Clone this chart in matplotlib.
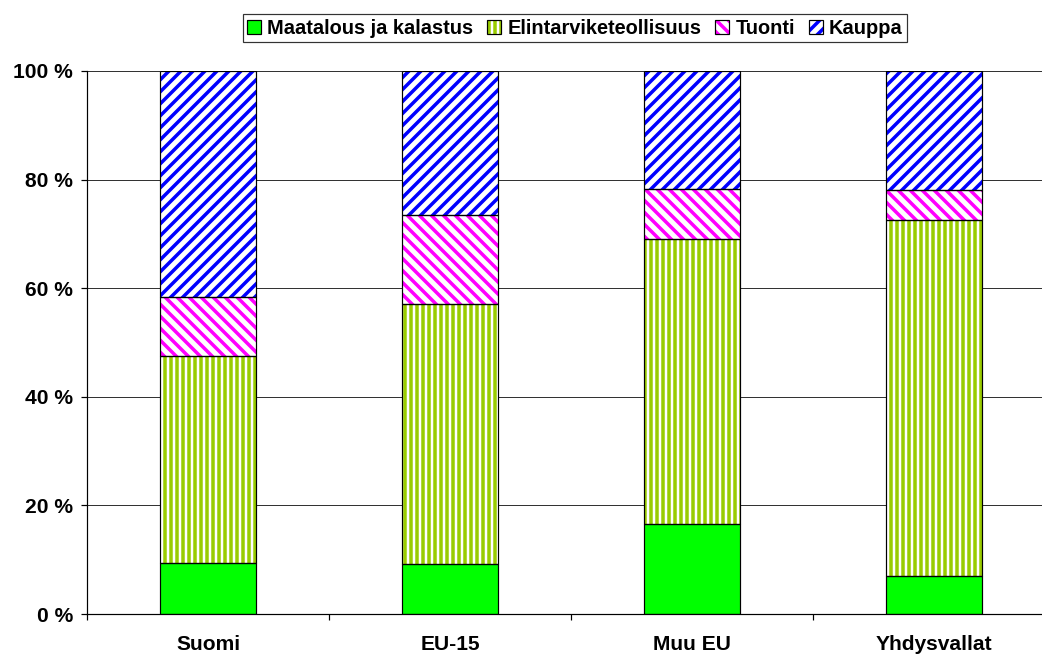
import matplotlib.pyplot as plt
import numpy as np
from matplotlib.patches import Patch

plt.rcParams['font.family'] = ['Liberation Sans', 'DejaVu Sans']
plt.rcParams['font.weight'] = 'bold'
plt.rcParams['hatch.linewidth'] = 3.5

categories = ["Suomi", "EU-15", "Muu EU", "Yhdysvallat"]
series_names = ["Maatalous ja kalastus", "Elintarviketeollisuus", "Tuonti", "Kauppa"]
maatalous = [9.4, 9.2, 16.6, 7.0]
elintarvike = [38.1, 47.9, 52.4, 65.6]
tuonti = [10.8, 16.4, 9.3, 5.4]
kauppa = [41.7, 26.5, 21.7, 22.0]

face_colors = ["#00FF00", "white", "white", "white"]
hatch_colors = ["#00FF00", "#99CC00", "#FF00FF", "#0000FF"]
hatches = [None, "||", "\\\\", "//"]

# dpi 72 so that one hatch unit is 72 px
fig = plt.figure(figsize=(1042 / 72, 654 / 72), dpi=72)
ax = fig.add_axes([87 / 1042, 1 - 614 / 654, (1055 - 87) / 1042, (614 - 71) / 654])

x = np.arange(len(categories))
width = 0.4
bottom = np.zeros(len(categories))
handles = []
for vals, fc, hc, h in zip([maatalous, elintarvike, tuonti, kauppa], face_colors, hatch_colors, hatches):
    ax.bar(x, vals, width, bottom=bottom, facecolor=fc, edgecolor=hc, hatch=h, linewidth=0, zorder=2)
    ax.bar(x, vals, width, bottom=bottom, fill=False, edgecolor="black", linewidth=1.2, zorder=3)
    bottom += np.array(vals)
    handles.append((Patch(facecolor=fc, edgecolor=hc, hatch=h, linewidth=0),
                    Patch(fill=False, edgecolor="black", linewidth=1.2)))

ax.set_xlim(-0.5, len(categories) - 0.5)
ax.set_ylim(0, 100)
ax.set_yticks([0, 20, 40, 60, 80, 100])
ax.set_yticklabels([f"{v} %" for v in [0, 20, 40, 60, 80, 100]], fontsize=21, fontweight='bold')
ax.yaxis.grid(True, color="#333333", linewidth=1, zorder=0)
ax.set_axisbelow(True)

ax.set_xticks(x)
ax.set_xticklabels(categories, fontsize=21, fontweight='bold')
ax.set_xticks(np.arange(-0.5, len(categories), 1), minor=True)
ax.tick_params(axis='x', which='major', length=0, pad=21)
ax.tick_params(axis='x', which='minor', length=6, width=1.2, direction='out')
ax.tick_params(axis='y', length=6, width=1.2, pad=8)

for s in ['top', 'right']:
    ax.spines[s].set_visible(False)
ax.spines['left'].set_linewidth(1.2)
ax.spines['bottom'].set_linewidth(1.2)

leg = fig.legend(handles, series_names, loc='center', bbox_to_anchor=(575 / 1042, 1 - 28 / 654),
                 ncol=4, frameon=True, fancybox=False, edgecolor='black',
                 handlelength=0.7, handleheight=0.7, handletextpad=0.3, columnspacing=0.7,
                 borderpad=0.22, borderaxespad=0, prop={'weight': 'bold', 'size': 20})
leg.get_frame().set_linewidth(1.2)

fig.savefig("out.png", dpi=72)
